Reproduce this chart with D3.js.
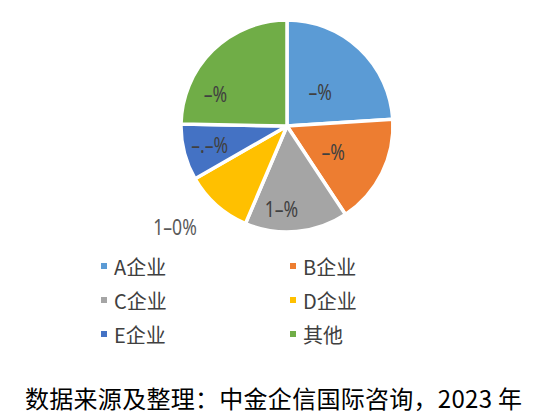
<!DOCTYPE html>
<html>
<head>
<meta charset="utf-8">
<script src="https://cdn.jsdelivr.net/npm/d3@7"></script>
<style>
    body { margin: 0; background: #fff; }
    svg text { font-family: "Noto Sans CJK SC", "Noto Sans", sans-serif; }
</style>
</head>
<body>
<div id="chart"></div>
<script>
// Chart data
const categories = ["A企业", "B企业", "C企业", "D企业", "E企业", "其他"];
const shares = [24.0, 16.7, 15.7, 10.3, 8.6, 24.7];
const labelTexts = ["-%", "-%", "1-%", "1-0%", "-.-%", "-%"];
const sourceNote = "数据来源及整理：中金企信国际咨询，2023 年";

const colours = ["#5B9BD5", "#ED7D31", "#A5A5A5", "#FFC000", "#4472C4", "#70AD47"];

// Label placement (fraction of radius, angle nudge in degrees), Excel "best fit" style
const labelPlacement = [[0.45, 1], [0.50, 2.7], [0.785, 9.1], [1.42, 6.5], [0.75, 0.7], [0.74, -21.5]];

const width = 547;
const height = 420;
const centre = { x: 287, y: 126 };
const radius = 106;

const svg = d3.select("#chart")
    .append("svg")
    .attr("width", width)
    .attr("height", height)
    .attr("viewBox", [0, 0, width, height]);

const data = categories.map((name, i) => ({ name: name, value: shares[i], label: labelTexts[i] }));

const pie = d3.pie()
    .value(d => d.value)
    .sort(null);

const arcs = pie(data);

const arc = d3.arc()
    .innerRadius(0)
    .outerRadius(radius);

const colour = d3.scaleOrdinal()
    .domain(categories)
    .range(colours);

// Pie group
const pieGroup = svg.append("g")
    .attr("transform", "translate(" + centre.x + "," + centre.y + ")");

pieGroup.selectAll("path")
    .data(arcs)
    .enter()
    .append("path")
    .attr("d", arc)
    .attr("fill", d => colour(d.data.name))
    .attr("stroke", "#fff")
    .attr("stroke-width", 3.5)
    .attr("stroke-linejoin", "round");

// Data labels
const labelPos = (d, i) => {
    const mid = (d.startAngle + d.endAngle) / 2 + labelPlacement[i][1] * Math.PI / 180;
    const r = radius * labelPlacement[i][0];
    return [Math.sin(mid) * r, -Math.cos(mid) * r];
};

pieGroup.selectAll(".slice-label")
    .data(arcs)
    .enter()
    .append("text")
    .attr("class", "slice-label")
    .attr("transform", (d, i) => "translate(" + labelPos(d, i)[0] + "," + labelPos(d, i)[1] + ") scale(0.8,1)")
    .attr("text-anchor", "middle")
    .attr("dominant-baseline", "central")
    .style("font-family", "'Noto Sans', sans-serif")
    .attr("font-size", 22)
    .attr("fill", (d, i) => i === 3 ? "#595959" : "#404040")
    .text(d => d.data.label.replace(/-/g, "–"));

// Legend
const legendCols = [101, 290];
const legendRows = d3.scalePoint()
    .domain([0, 1, 2])
    .range([266, 334]);

const legend = svg.append("g")
    .selectAll("g")
    .data(data)
    .enter()
    .append("g")
    .attr("transform", (d, i) => "translate(" + legendCols[i % 2] + "," + legendRows(Math.floor(i / 2)) + ")");

legend.append("rect")
    .attr("x", 0)
    .attr("y", -3)
    .attr("width", 6)
    .attr("height", 6)
    .attr("fill", d => colour(d.name));

legend.append("text")
    .attr("x", 13)
    .attr("y", 0)
    .attr("dominant-baseline", "central")
    .attr("font-size", 20)
    .attr("fill", "#404040")
    .text(d => d.name);

// Source note
svg.append("text")
    .attr("x", 25)
    .attr("y", 397)
    .attr("dominant-baseline", "central")
    .attr("font-size", 24)
    .attr("fill", "#000")
    .attr("textLength", 497)
    .attr("lengthAdjust", "spacing")
    .text(sourceNote);
</script>
</body>
</html>
